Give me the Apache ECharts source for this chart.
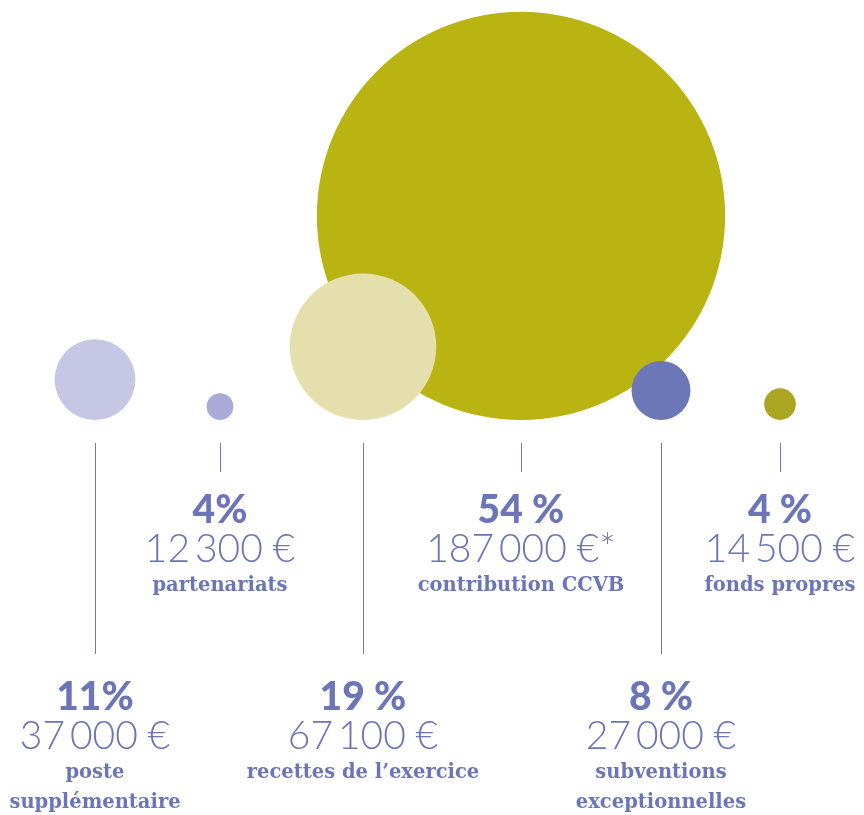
<!DOCTYPE html>
<html>
<head>
<meta charset="utf-8">
<script src="https://cdn.jsdelivr.net/npm/echarts@6/dist/echarts.min.js"></script>
<style>
html,body{margin:0;padding:0;background:#fff;}
#chart{width:864px;height:815px;}
</style>
</head>
<body>
<div id="chart"></div>
<script>
// ---- data ----
const categories = ['poste\nsupplémentaire', 'partenariats', 'recettes de l’exercice', 'contribution CCVB', 'subventions\nexceptionnelles', 'fonds propres'];
const amounts = [37000, 12300, 67100, 187000, 27000, 14500];
const percentLabels = ['11%', '4%', '19 %', '54 %', '8 %', '4 %'];
const amountNotes = ['', '', '', '*', '', ''];
const bubbleColors = ['#c5c7e5', '#a9acd6', '#e5dfae', '#b9b412', '#6b77b7', '#aba622'];

// ---- layout ----
const columnX = [95, 220, 363, 521, 661, 780];   // column centres (layout)
const labelRow = [1, 0, 1, 0, 1, 0];               // 0 = upper label row, 1 = lower
const baseLine = 420;                              // bubbles sit on this line
const lineTop = 443;
const rowPctY = [510, 697];
const sizeScale = 1 / 458;                         // diameter per euro

const textColor = '#6b75b7';
const lineColor = '#7078b9';

function fmtAmount(v) {
  const s = String(v);
  const parts = [];
  for (let i = s.length; i > 0; i -= 3) parts.unshift(s.slice(Math.max(0, i - 3), i));
  return parts.join('\u2009') + '\u202f€';
}

// bubbles drawn largest first so smaller ones sit on top
const order = amounts.map((v, i) => i).sort((a, b) => amounts[b] - amounts[a]);
const bubbleData = order.map(i => ({
  value: [columnX[i], baseLine, amounts[i]],
  itemStyle: { color: bubbleColors[i], opacity: 1 }
}));

const labelData = categories.map((c, i) => [columnX[i], labelRow[i], i]);

const chart = echarts.init(document.getElementById('chart'));
chart.setOption({
  animation: false,
  grid: { left: 0, right: 0, top: 0, bottom: 0 },
  xAxis: { type: 'value', min: 0, max: 864, show: false },
  yAxis: { type: 'value', min: 0, max: 815, inverse: true, show: false },
  series: [
    {
      type: 'scatter',
      data: bubbleData,
      symbol: 'circle',
      symbolSize: d => d[2] * sizeScale,
      symbolOffset: [0, '-50%'],
      itemStyle: { opacity: 1 },
      silent: true,
      z: 2
    },
    {
      type: 'custom',
      data: labelData,
      silent: true,
      z: 3,
      renderItem: function (params, api) {
        const i = api.value(2);
        const row = api.value(1);
        const x = api.coord([api.value(0), 0])[0];
        const pctY = api.coord([0, rowPctY[row]])[1];
        const topY = api.coord([0, lineTop])[1];
        const lineEnd = pctY - (row === 0 ? 38 : 43);
        const lx = Math.round(x) + 0.5;
        const children = [
          { type: 'line', shape: { x1: lx, y1: topY, x2: lx, y2: lineEnd },
            style: { stroke: lineColor, lineWidth: 1 } },
          { type: 'text', style: { x: x, y: pctY, text: percentLabels[i], fill: textColor,
            font: '900 39px Lato', align: 'center', verticalAlign: 'middle' } },
          { type: 'text', style: { x: x, y: pctY + 39, text: fmtAmount(amounts[i]) + amountNotes[i], fill: textColor,
            font: '300 39px Lato', align: 'center', verticalAlign: 'middle' } }
        ];
        const lines = categories[i].split('\n');
        lines.forEach((t, k) => {
          children.push({ type: 'text', style: { x: x, y: pctY + 76 + k * 30, text: t, fill: textColor,
            font: 'bold 19.5px "DejaVu Serif"', align: 'center', verticalAlign: 'middle' } });
        });
        return { type: 'group', children: children };
      }
    }
  ]
});
</script>
</body>
</html>
